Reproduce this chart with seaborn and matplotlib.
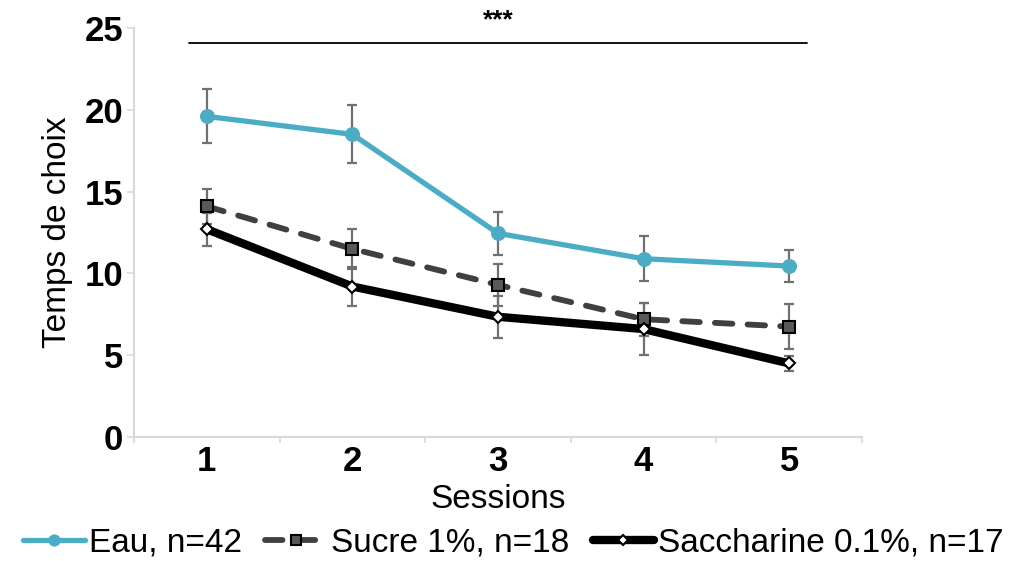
import numpy as np
import pandas as pd
import matplotlib
matplotlib.use("Agg")
import matplotlib.pyplot as plt
import seaborn as sns

sessions = [1, 2, 3, 4, 5]
eau = [19.6, 18.5, 12.45, 10.9, 10.45]
eau_err = [1.65, 1.77, 1.3, 1.37, 1.0]
sucre = [14.1, 11.5, 9.3, 7.2, 6.75]
sucre_err = [1.08, 1.2, 1.3, 1.0, 1.37]
sacch = [12.7, 9.2, 7.35, 6.6, 4.5]
sacch_err = [1.0, 1.2, 1.27, 1.57, 0.45]
labels = ["Eau, n=42", "Sucre 1%, n=18", "Saccharine 0.1%, n=17"]
yticks = [0, 5, 10, 15, 20, 25]

sns.set_theme(style="white")
plt.rcParams['font.family'] = ['Liberation Sans', 'DejaVu Sans']
for k in ["text.color", "axes.labelcolor", "xtick.color", "ytick.color"]:
    plt.rcParams[k] = "black"

fig = plt.figure(figsize=(10.27, 5.61), dpi=100)
ax = fig.add_axes([0.1305, 0.221, 0.7088, 0.729])

df = pd.DataFrame({"Session": sessions * 3,
                   "Temps": eau + sucre + sacch,
                   "Groupe": [labels[0]] * 5 + [labels[1]] * 5 + [labels[2]] * 5})

errc = "#707070"
for vals, errs in [(eau, eau_err), (sucre, sucre_err), (sacch, sacch_err)]:
    ax.errorbar(sessions, vals, yerr=errs, fmt="none", ecolor=errc, elinewidth=1.6,
                capsize=3.6, capthick=1.6, zorder=1)

sns.lineplot(data=df[df.Groupe == labels[0]], x="Session", y="Temps", ax=ax,
             color="#4bacc6", linewidth=3.8, marker="o", markersize=10,
             markeredgecolor="#4bacc6", label=labels[0], zorder=3)
sns.lineplot(data=df[df.Groupe == labels[1]], x="Session", y="Temps", ax=ax,
             color="#404040", linewidth=4.2, linestyle=(0, (3.0, 2.6)), dash_capstyle="round",
             marker="s", markersize=8.5,
             markerfacecolor="#595959", markeredgecolor="black", markeredgewidth=1.5,
             label=labels[1], zorder=2)
sns.lineplot(data=df[df.Groupe == labels[2]], x="Session", y="Temps", ax=ax,
             color="black", linewidth=6, marker="D", markersize=6.5,
             markerfacecolor="white", markeredgecolor="black", markeredgewidth=1.5,
             label=labels[2], zorder=4)

ax.set_xlim(0.5, 5.5)
ax.set_ylim(0, 25)
ax.set_yticks(yticks)
ax.set_yticklabels([str(v) for v in yticks], fontsize=25, fontweight="bold")
ax.set_xticks(sessions)
ax.set_xticklabels([str(s) for s in sessions], fontsize=25, fontweight="bold")
ax.set_xticks([0.5, 1.5, 2.5, 3.5, 4.5, 5.5], minor=True)
ax.tick_params(axis="x", which="major", length=0, pad=6)
ax.tick_params(axis="x", which="minor", length=4, width=1.2, color="#d9d9d9", bottom=True)
ax.tick_params(axis="y", length=5, width=1.2, color="#d9d9d9", left=True, pad=3)
for s in ["top", "right"]:
    ax.spines[s].set_visible(False)
for s in ["left", "bottom"]:
    ax.spines[s].set_color("#d9d9d9")
    ax.spines[s].set_linewidth(1.5)
ax.set_xlabel("Sessions", fontsize=24, labelpad=4)
ax.set_ylabel("Temps de choix", fontsize=24, labelpad=8)

# significance bar
ax.plot([0.88, 5.12], [24.1, 24.1], color="black", linewidth=1.3, clip_on=False)
ax.text(3, 25.45, "***", ha="center", va="center", fontsize=19, fontweight="bold", clip_on=False)

leg = ax.legend(loc="lower center", bbox_to_anchor=(0.5, -0.025), bbox_transform=fig.transFigure,
                ncol=3, frameon=False, handlelength=1.85, handletextpad=0.12,
                columnspacing=0.7, borderaxespad=0.1, numpoints=1, markerscale=0.8,
                prop={"size": 24})

fig.savefig("out.png", dpi=100)
